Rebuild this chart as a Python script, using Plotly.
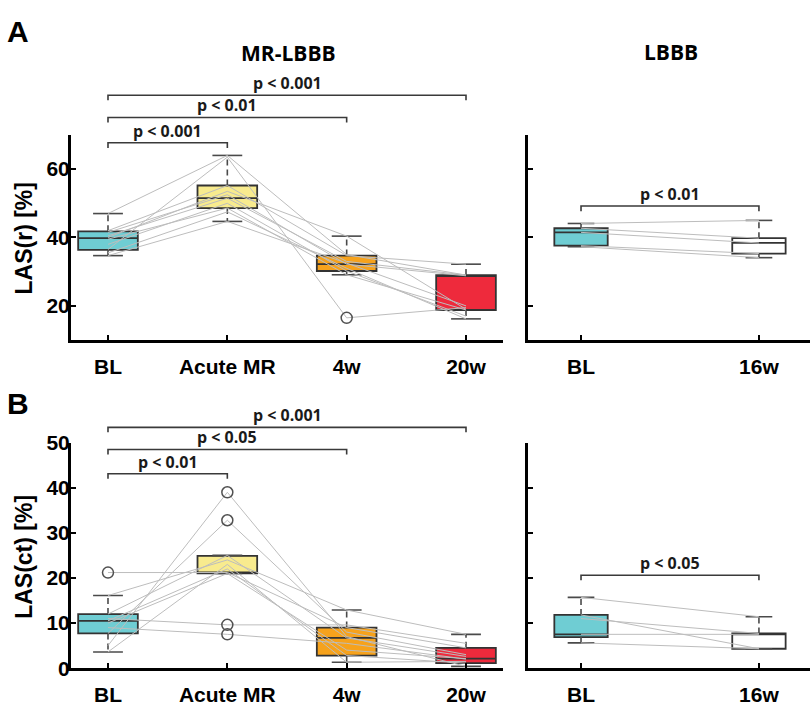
import plotly.graph_objects as go

# ---------------- data ----------------
cats_mr = ["BL", "Acute MR", "4w", "20w"]
cats_lb = ["BL", "16w"]
colors_mr = ["#6fcdd3", "#f8eb8e", "#f6a21c", "#ee2a3c"]
colors_lb = ["#6fcdd3", "#ffffff"]

# LAS(r) MR-LBBB box statistics
r_mr_low = [34.7, 44.7, 29.1, 16.2]
r_mr_q1 = [36.4, 48.6, 30.2, 18.8]
r_mr_med = [39.8, 51.5, 32.2, 28.8]
r_mr_q3 = [41.8, 55.2, 34.7, 29.0]
r_mr_up = [47.0, 64.0, 40.4, 32.2]
r_mr_out_x = [3]
r_mr_out_y = [16.5]
# LAS(r) MR-LBBB individual subjects (BL, Acute MR, 4w, 20w)
r_mr_bl = [47.0, 42.0, 41.5, 40.5, 40.0, 39.5, 38.0, 36.5, 35.5, 34.7]
r_mr_amr = [64.0, 55.2, 52.5, 51.5, 53.5, 48.6, 50.0, 63.5, 47.5, 44.7]
r_mr_4w = [35.0, 34.7, 32.2, 33.0, 40.4, 29.1, 30.2, 16.5, 31.0, 32.5]
r_mr_20w = [29.0, 32.2, 28.8, 29.0, 19.0, 18.8, 17.0, 19.5, 16.2, 20.0]

# LAS(r) LBBB
r_lb_low = [37.3, 34.1]
r_lb_q1 = [37.6, 35.3]
r_lb_med = [41.5, 38.4]
r_lb_q3 = [42.7, 39.8]
r_lb_up = [44.1, 45.0]
r_lb_bl = [44.1, 42.7, 41.5, 37.6, 37.3]
r_lb_16w = [45.0, 39.8, 38.4, 35.3, 34.1]

# LAS(ct) MR-LBBB
ct_mr_low = [3.6, 21.0, 1.3, 0.4]
ct_mr_q1 = [7.7, 21.0, 2.8, 1.1]
ct_mr_med = [10.5, 21.2, 6.7, 2.1]
ct_mr_q3 = [12.0, 24.9, 9.0, 4.5]
ct_mr_up = [16.1, 25.0, 12.9, 7.5]
ct_mr_out_x = [1, 2, 2, 2, 2]
ct_mr_out_y = [21.2, 39.0, 32.8, 9.6, 7.5]
ct_mr_bl = [21.2, 16.1, 12.0, 11.0, 10.5, 10.0, 9.0, 7.7, 5.0, 3.6]
ct_mr_amr = [21.2, 24.0, 25.0, 9.6, 22.0, 21.0, 7.5, 32.8, 39.0, 23.0]
ct_mr_4w = [9.0, 12.9, 6.7, 9.6, 2.8, 4.0, 5.5, 8.0, 7.0, 1.3]
ct_mr_20w = [4.5, 7.5, 2.6, 5.5, 1.1, 2.1, 2.0, 3.0, 0.4, 1.5]

# LAS(ct) LBBB
ct_lb_low = [5.6, 4.3]
ct_lb_q1 = [6.9, 4.3]
ct_lb_med = [7.5, 7.5]
ct_lb_q3 = [11.8, 7.7]
ct_lb_up = [15.7, 11.4]
ct_lb_bl = [15.7, 11.8, 11.0, 7.5, 5.6]
ct_lb_16w = [11.4, 4.3, 7.7, 7.5, 4.3]

# significance brackets: (from category, to category, level, label)
br_r_mr = [(1, 2, 67.7, "p < 0.001"), (1, 3, 75.1, "p < 0.01"), (1, 4, 81.6, "p < 0.001")]
br_r_lb = [(1, 2, 49.2, "p < 0.01")]
br_ct_mr = [(1, 2, 43.1, "p < 0.01"), (1, 3, 48.5, "p < 0.05"), (1, 4, 53.4, "p < 0.001")]
br_ct_lb = [(1, 2, 20.6, "p < 0.05")]

# ---------------- layout geometry ----------------
W, H = 810, 714


def pxx(p):
    return p / W


def pxy(p):
    return 1 - p / H


panels = {
    "A_L": dict(xa="x", ya="y", xdom=(71, 503), ydom=(127, 339), xr=(0.69, 4.31), yr=(10, 70)),
    "A_R": dict(xa="x2", ya="y2", xdom=(528, 810), ydom=(127, 339), xr=(0.702, 2.287), yr=(10, 70)),
    "B_L": dict(xa="x3", ya="y3", xdom=(71, 503), ydom=(445, 678), xr=(0.69, 4.31), yr=(0, 50)),
    "B_R": dict(xa="x4", ya="y4", xdom=(528, 810), ydom=(445, 678), xr=(0.702, 2.287), yr=(0, 50)),
}


def to_paper(pn, xv, yv):
    p = panels[pn]
    x0, x1 = pxx(p["xdom"][0]), pxx(p["xdom"][1])
    y0, y1 = pxy(p["ydom"][1]), pxy(p["ydom"][0])
    fx = (xv - p["xr"][0]) / (p["xr"][1] - p["xr"][0])
    fy = (yv - p["yr"][0]) / (p["yr"][1] - p["yr"][0])
    return x0 + fx * (x1 - x0), y0 + fy * (y1 - y0)


fig = go.Figure()
BOXLINE = "#333333"
WHISK = "#4a4a4a"
SUBJ = "#bdbdbd"


def add_boxes(pn, colors, low, q1, med, q3, up, width):
    p = panels[pn]
    n = len(colors)
    for i in range(n):
        fig.add_trace(go.Box(
            x=[i + 1], lowerfence=[q1[i]], q1=[q1[i]], median=[med[i]], q3=[q3[i]],
            upperfence=[q3[i]], fillcolor=colors[i], line=dict(color=BOXLINE, width=1.8),
            width=width, whiskerwidth=0, boxpoints=False, showlegend=False,
            xaxis=p["xa"], yaxis=p["ya"], hoverinfo="skip"))
    # dashed whiskers (MATLAB style)
    wx, wy, cx, cy = [], [], [], []
    for i in range(n):
        c = i + 1
        wx += [c, c, None, c, c, None]
        wy += [q3[i], up[i], None, q1[i], low[i], None]
        h = width / 4
        cx += [c - h, c + h, None, c - h, c + h, None]
        cy += [up[i], up[i], None, low[i], low[i], None]
    fig.add_trace(go.Scatter(x=wx, y=wy, mode="lines",
                             line=dict(color=WHISK, width=1.6, dash="6px,4px"),
                             showlegend=False, xaxis=p["xa"], yaxis=p["ya"], hoverinfo="skip"))
    fig.add_trace(go.Scatter(x=cx, y=cy, mode="lines", line=dict(color=WHISK, width=1.6),
                             showlegend=False, xaxis=p["xa"], yaxis=p["ya"], hoverinfo="skip"))


def add_subjects(pn, series):
    p = panels[pn]
    n = len(series[0])
    for s in range(n):
        fig.add_trace(go.Scatter(
            x=list(range(1, len(series) + 1)), y=[ser[s] for ser in series],
            mode="lines", line=dict(color=SUBJ, width=1), showlegend=False,
            xaxis=p["xa"], yaxis=p["ya"], hoverinfo="skip"))


def add_outliers(pn, xs, ys):
    p = panels[pn]
    fig.add_trace(go.Scatter(
        x=xs, y=ys, mode="markers", cliponaxis=False,
        marker=dict(symbol="circle-open", size=11, color="#505050", line=dict(width=1.5)),
        showlegend=False, xaxis=p["xa"], yaxis=p["ya"], hoverinfo="skip"))


add_boxes("A_L", colors_mr, r_mr_low, r_mr_q1, r_mr_med, r_mr_q3, r_mr_up, 0.5)
add_subjects("A_L", [r_mr_bl, r_mr_amr, r_mr_4w, r_mr_20w])
add_outliers("A_L", r_mr_out_x, r_mr_out_y)

add_boxes("A_R", colors_lb, r_lb_low, r_lb_q1, r_lb_med, r_lb_q3, r_lb_up, 0.3)
add_subjects("A_R", [r_lb_bl, r_lb_16w])

add_boxes("B_L", colors_mr, ct_mr_low, ct_mr_q1, ct_mr_med, ct_mr_q3, ct_mr_up, 0.5)
add_subjects("B_L", [ct_mr_bl, ct_mr_amr, ct_mr_4w, ct_mr_20w])
add_outliers("B_L", ct_mr_out_x, ct_mr_out_y)

add_boxes("B_R", colors_lb, ct_lb_low, ct_lb_q1, ct_lb_med, ct_lb_q3, ct_lb_up, 0.3)
add_subjects("B_R", [ct_lb_bl, ct_lb_16w])

shapes = []
annotations = []
PFONT = dict(family="Open Sans", size=16, color="#1a1a1a")


def add_brackets(pn, brs, drop):
    for (a, b, lvl, txt) in brs:
        xa, yl = to_paper(pn, a, lvl)
        xb, _ = to_paper(pn, b, lvl)
        _, yd = to_paper(pn, a, lvl - drop)
        shapes.append(dict(type="path", xref="paper", yref="paper",
                           path=f"M {xa},{yd} L {xa},{yl} L {xb},{yl} L {xb},{yd}",
                           line=dict(color="#3a3a3a", width=1.6)))
        xm, _ = to_paper(pn, (a + b) / 2, lvl)
        annotations.append(dict(x=xm, y=yl, xref="paper", yref="paper", text=f"<b>{txt}</b>",
                                showarrow=False, xanchor="center", yanchor="bottom",
                                yshift=-1, font=PFONT))


add_brackets("A_L", br_r_mr, 1.5)
add_brackets("A_R", br_r_lb, 1.5)
add_brackets("B_L", br_ct_mr, 1.1)
add_brackets("B_R", br_ct_lb, 1.1)

for txt, x, y, sz, fam in [
    ("A", 18, 20, 30, "Liberation Sans"),
    ("B", 18, 405, 30, "Liberation Sans"),
    ("MR-LBBB", 288, 42, 21, "Open Sans"),
    ("LBBB", 671, 41, 21, "Open Sans"),
]:
    annotations.append(dict(x=pxx(x), y=pxy(y), xref="paper", yref="paper", text=f"<b>{txt}</b>",
                            showarrow=False, xanchor="center", yanchor="middle",
                            font=dict(family=fam, size=sz, color="black")))
for txt, y in [("LAS(r) [%]", 234), ("LAS(ct) [%]", 563)]:
    annotations.append(dict(x=pxx(24), y=pxy(y), xref="paper", yref="paper", text=f"<b>{txt}</b>",
                            showarrow=False, textangle=-90, xanchor="center", yanchor="middle",
                            font=dict(family="Liberation Sans", size=23, color="black")))

layout = dict(width=W, height=H, margin=dict(l=0, r=0, t=0, b=0),
              paper_bgcolor="white", plot_bgcolor="white", showlegend=False,
              shapes=shapes, annotations=annotations)

ax_common = dict(showgrid=False, zeroline=False, showline=True, linecolor="black", linewidth=3,
                 ticks="inside", ticklen=5, tickwidth=2, tickcolor="black",
                 tickfont=dict(family="Liberation Sans", size=21, color="black"), fixedrange=True)

for i, (pn, cats, yt, show_ylab) in enumerate([
    ("A_L", cats_mr, [20, 40, 60], True),
    ("A_R", cats_lb, [20, 40, 60], False),
    ("B_L", cats_mr, [0, 10, 20, 30, 40, 50], True),
    ("B_R", cats_lb, [10, 20, 30, 40, 50], False),
]):
    p = panels[pn]
    sfx = "" if i == 0 else str(i + 1)
    layout["xaxis" + sfx] = dict(ax_common, domain=[pxx(p["xdom"][0]), pxx(p["xdom"][1])],
                                 range=list(p["xr"]), anchor=p["ya"],
                                 tickvals=list(range(1, len(cats) + 1)),
                                 ticktext=[f"<b>{c}</b>" for c in cats], ticklabelstandoff=6)
    layout["yaxis" + sfx] = dict(ax_common, domain=[pxy(p["ydom"][1]), pxy(p["ydom"][0])],
                                 range=list(p["yr"]), anchor=p["xa"], tickvals=yt,
                                 ticktext=[f"<b>{v}</b>" for v in yt],
                                 showticklabels=show_ylab, ticklabelstandoff=-6)

fig.update_layout(**layout)
fig.write_html("out.html")
